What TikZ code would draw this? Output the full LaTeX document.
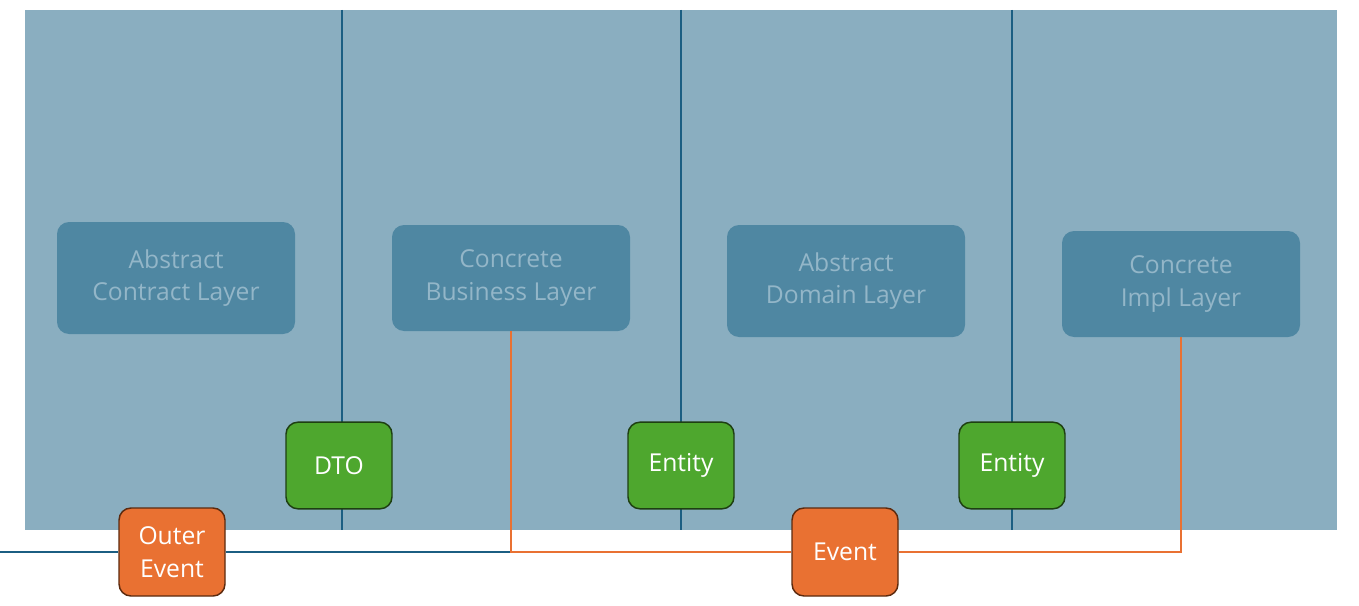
\documentclass[tikz,border=0pt]{standalone}
\usepackage{fontspec}
\setmainfont{Open Sans}
\definecolor{bgblue}{HTML}{8AAEC0}
\definecolor{divblue}{HTML}{1B5E82}
\definecolor{layerfill}{HTML}{4F87A2}
\definecolor{layertext}{HTML}{93B6C8}
\definecolor{greenfill}{HTML}{4EA72E}
\definecolor{greenline}{HTML}{1E3F12}
\definecolor{orangefill}{HTML}{E97132}
\definecolor{orangeline}{HTML}{5C2A0E}
\tikzset{
  layerbox/.style={fill=layerfill, draw=none, rounded corners=9pt, minimum width=178.5pt, align=center, text=layertext, font=\fontsize{18.5}{24.5}\selectfont},
  greenbox/.style={fill=greenfill, draw=greenline, line width=1.1pt, rounded corners=9pt, minimum width=79.5pt, minimum height=65pt, text=white, align=center, font=\fontsize{18.5}{24.5}\selectfont},
  orangebox/.style={fill=orangefill, draw=orangeline, line width=1.1pt, rounded corners=9pt, minimum width=79.5pt, minimum height=66pt, text=white, align=center, font=\fontsize{18.5}{24.5}\selectfont},
  divider/.style={draw=divblue, line width=1.5pt},
  flow/.style={draw=orangefill, line width=2pt},
  outer/.style={draw=divblue, line width=2pt},
}
\begin{document}
\begin{tikzpicture}[x=0.75pt,y=-0.75pt]
\useasboundingbox (0,0) rectangle (1359,606);
\fill[bgblue] (25,10) rectangle (1337,530);
\foreach \x in {342,681,1012}{
  \draw[divider] (\x,10) -- (\x,530);
}
\node[layerbox, minimum height=84pt] (contract) at (176,278) {Abstract\\Contract Layer};
\node[layerbox, minimum height=79.5pt] (business) at (511,278) {Concrete\\Business Layer};
\node[layerbox, minimum height=84pt] (domain) at (846,281) {Abstract\\Domain Layer};
\node[layerbox, minimum height=79.5pt] (impl) at (1181,284) {Concrete\\Impl Layer};
\coordinate (start) at (0,552);
\coordinate (corner) at (511,552);
\node[greenbox] (dto) at (339,465.5) {DTO};
\node[greenbox] (entity1) at (681,465.5) {Entity};
\node[greenbox] (entity2) at (1012,465.5) {Entity};
\node[orangebox] (outerevent) at (172,552) {Outer\\Event};
\node[orangebox] (event) at (845,552) {Event};
\draw[outer] (start) -- (outerevent.west);
\draw[outer] (outerevent.east) -- (corner);
\draw[flow] (business.south) -- (corner) -- (event.west);
\draw[flow] (event.east) -| (impl.south);
\end{tikzpicture}
\end{document}
